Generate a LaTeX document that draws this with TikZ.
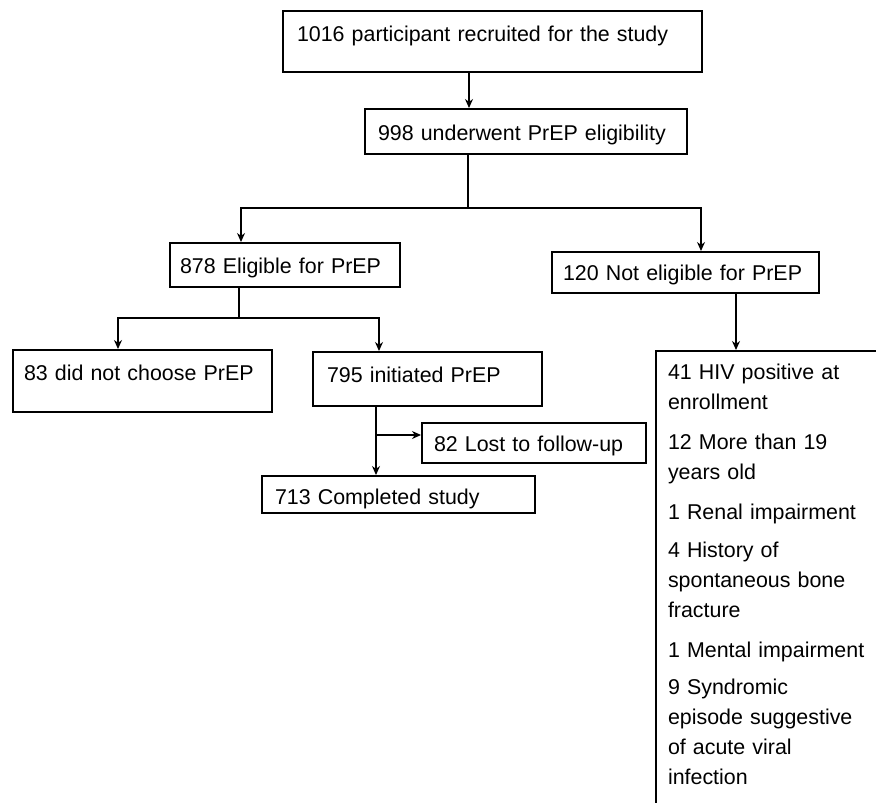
\documentclass[tikz,border=0pt]{standalone}
\usepackage{fontspec}
\setmainfont{Liberation Sans}
\usetikzlibrary{arrows.meta}
\hyphenpenalty=10000
\exhyphenpenalty=10000
\tikzset{
  box/.style={draw, line width=2pt, anchor=north west, inner ysep=0pt, align=left,
    font=\fontsize{21.4}{30}\selectfont},
  arr/.style={line width=1.4pt, -{Stealth[length=9pt,width=8pt]}},
  ln/.style={line width=1.4pt}
}
\begin{document}
\begin{tikzpicture}[x=1pt,y=-1pt]
\useasboundingbox (0,0) rectangle (876,803);
\clip (0,0) rectangle (876,803);

\node[box, text width=391pt, inner xsep=14pt, text height=30pt, text depth=31pt] (recruit) at (282,10) {1016 participant recruited for the study};
\node[box, text width=296pt, inner xsep=13pt, text height=31pt, text depth=14pt] (screen) at (364,108) {998 underwent PrEP eligibility};
\node[box, text width=210pt, inner xsep=10pt, text height=30pt, text depth=14pt] (elig) at (169,242) {878 Eligible for PrEP};
\node[box, text width=245pt, inner xsep=11pt, text height=28pt, text depth=13pt] (nelig) at (551,251) {120 Not eligible for PrEP};
\node[box, text width=237pt, inner xsep=11pt, text height=30pt, text depth=32pt] (nochoose) at (12,349) {83 did not choose PrEP};
\node[box, text width=201pt, inner xsep=14pt, text height=30pt, text depth=24pt] (init) at (312,351) {795 initiated PrEP};
\node[box, text width=200pt, inner xsep=12pt, text height=28pt, text depth=12pt] (lost) at (421,422) {82 Lost to follow-up};
\node[box, text width=247pt, inner xsep=13pt, text height=28pt, text depth=9pt] (done) at (261,475) {713 Completed study};
\node[box, text width=197pt, inner xsep=12pt, text height=28pt, text depth=480pt] (excl) at (655,350) {41 HIV positive at enrollment\\[10pt]
12 More than 19 years old\\[10pt]
1 Renal impairment\\[8pt]
4 History of spontaneous bone fracture\\[10pt]
1 Mental impairment\\[7pt]
9 Syndromic episode suggestive of acute viral infection};

\draw[arr] ([xshift=-23.5pt]recruit.south) -- ([xshift=-23.5pt]recruit.south |- screen.north);
\draw[ln] ([xshift=-58pt]screen.south) -- ++(0,53) coordinate (split1);
\draw[arr] (split1) -| ([xshift=-44pt]elig.north);
\draw[arr] (split1) -| ([xshift=15.5pt]nelig.north);
\draw[ln] ([xshift=-46pt]elig.south) -- ++(0,30) coordinate (split2);
\draw[arr] (split2) -| ([xshift=-24.5pt]nochoose.north);
\draw[arr] (split2) -| ([xshift=-48.5pt]init.north);
\draw[arr] ([xshift=50.5pt]nelig.south) -- ([xshift=50.5pt]nelig.south |- excl.north);
\draw[arr] ([xshift=-51.5pt]init.south) -- ([xshift=-51.5pt]init.south |- done.north);
\path ([xshift=-51.5pt]init.south) ++(0,28) coordinate (split3);
\draw[arr] (split3) -- (split3 -| lost.west);
\end{tikzpicture}
\end{document}
